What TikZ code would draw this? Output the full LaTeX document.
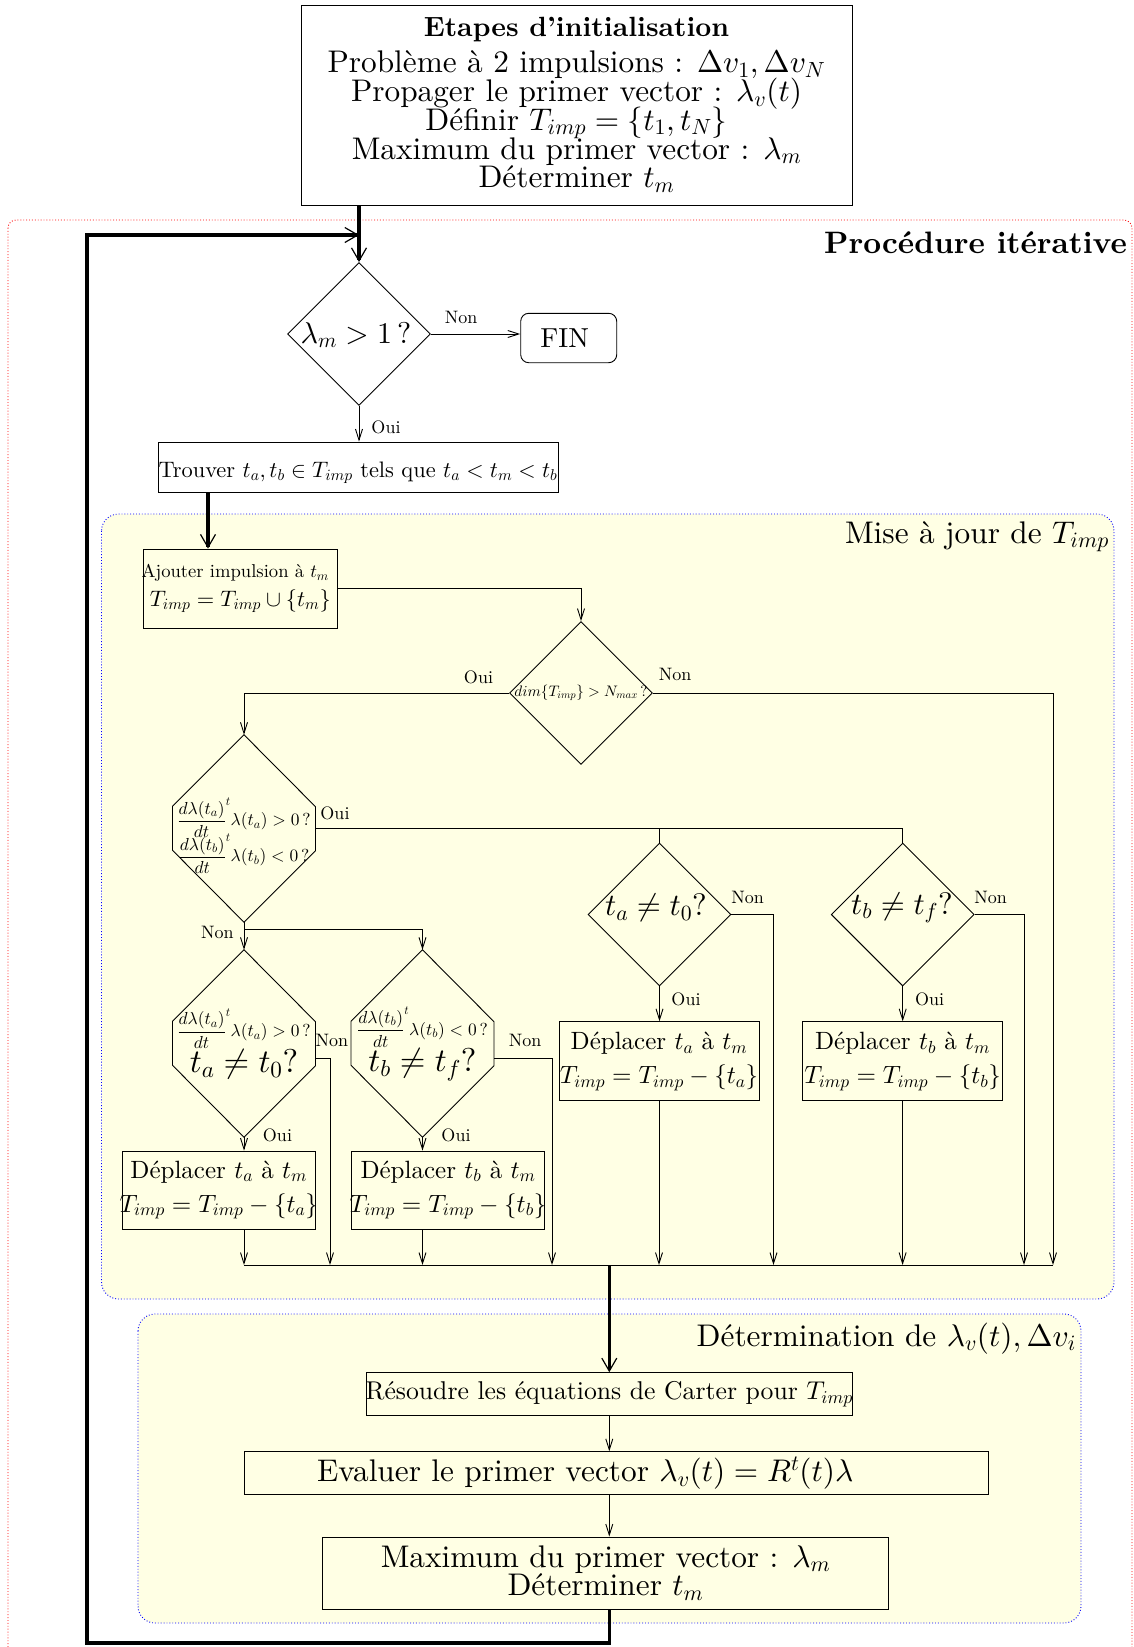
\documentclass[tikz,border=0pt]{standalone}
\usetikzlibrary{arrows.meta,calc,shapes.geometric}
\DeclareFontShape{OML}{cmm}{m}{it}{<->cmmi10}{}
\DeclareFontShape{OMS}{cmsy}{m}{n}{<->cmsy10}{}
\DeclareFontShape{OMX}{cmex}{m}{n}{<->cmex10}{}
\DeclareFontShape{OT1}{cmr}{m}{n}{<->cmr10}{}
\DeclareFontShape{TU}{lmr}{m}{n}{<->"[lmroman10-regular]:mapping=tex-text;"}{}
\DeclareFontShape{TU}{lmr}{bx}{n}{<->"[lmroman10-bold]:mapping=tex-text;"}{}
\definecolor{bgyellow}{RGB}{255,255,228}
\lineskiplimit=-1000pt
\lineskip=0pt
\newcommand{\fzA}{\fontsize{31.3}{28.7}\selectfont}
\newcommand{\fzB}{\fontsize{25}{34}\selectfont}
\newcommand{\fzR}{\fontsize{25.7}{30}\selectfont}
\newcommand{\fzC}{\fontsize{22.4}{29}\selectfont}
\newcommand{\fzD}{\fontsize{18.6}{29}\selectfont}
\newcommand{\fzE}{\fontsize{17.4}{36}\selectfont}
\newcommand{\fzEbig}{\fontsize{33}{36}\selectfont}
\newcommand{\fzF}{\fontsize{18}{20}\selectfont}
\newcommand{\fzG}{\fontsize{15.2}{18}\selectfont}
\newcommand{\fzH}{\fontsize{31}{34}\selectfont}
\newcommand{\fzI}{\fontsize{30}{34}\selectfont}
\newcommand{\fzT}{\fontsize{27.8}{28.7}\selectfont}
\newcommand{\fzP}{\fontsize{31}{34}\selectfont}
\newcommand{\fzN}{\fontsize{27.5}{30}\selectfont}
\newcommand{\zc}[1]{\makebox[0pt][c]{#1}}
\begin{document}
\begin{tikzpicture}[x=1pt,y=-1pt,
  box/.style={draw, line width=0.9pt, inner sep=0pt, align=center},
  dia/.style={draw, shape=diamond, line width=0.9pt, inner sep=0pt, minimum width=143pt, minimum height=143pt},
  cdia/.style={shape=rectangle, inner sep=0pt, minimum width=143pt, minimum height=187pt},
  shp/.style={line width=0.9pt},
  txt/.style={inner sep=0pt, align=center},
  lbl/.style={inner sep=0pt, font=\fzF},
  ln/.style={line width=0.9pt},
  arr/.style={line width=0.9pt, -{Straight Barb[length=11pt,width=7pt]}},
  tarr/.style={line width=3.5pt, -{Straight Barb[length=13pt,width=15pt,line width=1.2pt]}},
  zone/.style={draw=blue, dotted, line width=0.9pt, rounded corners=17pt, fill=bgyellow},
]
\useasboundingbox (0,0) rectangle (1133,1647);
\fill[white] (0,0) rectangle (1133,1647);
% frames
\draw[red, dotted, line width=0.9pt, rounded corners=8pt] (8,220) rectangle (1132,1690);
\draw[zone] (101.5,514) rectangle (1114,1299);
\draw[zone] (138,1314) rectangle (1081,1623);
% init
\node[box, fill=white, minimum width=551pt, minimum height=200pt, font=\fzA] (init) at (576.5,105)
 {{\fzT\bfseries Etapes d’initialisation}\\[7.3pt]
  Problème à 2 impulsions : $\Delta v_1,\Delta v_N$\\
  Propager le primer vector : $\lambda_v(t)$\\
  Définir $T_{imp}=\{t_1,t_N\}$\\
  Maximum du primer vector : $\lambda_m$\\
  Déterminer $t_m$};
\node[anchor=base east, inner sep=0pt, font=\fzP\bfseries] (proc) at (1127,253) {Procédure itérative};
% decision 1
\node[dia] (d1) at (359,334) {};
\node[txt, font=\fzI] (d1t) at (356,335) {$\lambda_m>1\,?$};
\node[box, rounded corners=8pt, fill=white, minimum width=96pt, minimum height=49.4pt, font=\fzN] (fin) at (568.7,338) {\zc{\kern-8pt FIN}};
\node[lbl] (non1) at (461,317.5) {Non};
\node[lbl] (oui1) at (386,427) {Oui};
\node[box, minimum width=400pt, minimum height=50pt, text height=24pt, text depth=4pt, font=\fzC] (trouver) at (358,467)
 {\zc{Trouver $t_a,t_b\in T_{imp}$ tels que $t_a<t_m<t_b$}};
% zone 1
\node[anchor=base east, inner sep=0pt, font=\fzA] (z1lab) at (1109,543) {Mise à jour de $T_{imp}$};
\node[box, minimum width=193.4pt, minimum height=79pt, font=\fzC] (ajout) at (240.3,588.5)
 {\zc{{\fzD Ajouter impulsion à $t_m$}\kern10pt}\\ $T_{imp}=T_{imp}\cup\{t_m\}$};
\node[dia] (d2) at (581,693) {};
\node[txt, font=\fzG] (d2t) at (581,693) {$dim\{T_{imp}\}>N_{max}\,?$};
\node[lbl] (oui2) at (478.5,677) {Oui};
\node[lbl] (non2) at (675,674) {Non};
% decision 3
\node[cdia] (d3) at (244,828.5) {};
\draw[shp] (d3.north) -- ++(-71.5,71.5) -- ++(0,44) -- (d3.south) -- ++(71.5,-71.5) -- ++(0,-44) -- cycle;
\node[txt, font=\fzE] (d3t) at (244,836)
 {$\displaystyle{\frac{d\lambda(t_a)}{dt}}^{t}\lambda(t_a)>0\,?$\\ $\displaystyle{\frac{d\lambda(t_b)}{dt}}^{t}\lambda(t_b)<0\,?$};
\node[lbl] (oui3) at (335,813) {Oui};
\node[lbl] (non3) at (217.5,932) {Non};
% decision 4 and 5
\node[cdia] (d4) at (244,1043.5) {};
\draw[shp] (d4.north) -- ++(-71.5,71.5) -- ++(0,44) -- (d4.south) -- ++(71.5,-71.5) -- ++(0,-44) -- cycle;
\node[txt, font=\fzE] (d4t) at (244,1044)
 {$\displaystyle{\frac{d\lambda(t_a)}{dt}}^{t}\lambda(t_a)>0\,?$\\ {\fzEbig$t_a\neq t_0?$}};
\node[cdia] (d5) at (422.5,1043.5) {};
\draw[shp] (d5.north) -- ++(-71.5,71.5) -- ++(0,44) -- (d5.south) -- ++(71.5,-71.5) -- ++(0,-44) -- cycle;
\node[txt, font=\fzE] (d5t) at (422.5,1044)
 {$\displaystyle{\frac{d\lambda(t_b)}{dt}}^{t}\lambda(t_b)<0\,?$\\ {\fzEbig$t_b\neq t_f?$}};
\node[lbl] (non4) at (332,1040) {Non};
\node[lbl] (non5) at (525,1040) {Non};
\node[lbl] (oui4) at (277.5,1135) {Oui};
\node[lbl] (oui5) at (456,1135) {Oui};
\node[box, minimum width=193.5pt, minimum height=78pt, font=\fzB] (b1) at (218.75,1190)
 {\zc{Déplacer $t_a$ à $t_m$}\\ \zc{$T_{imp}=T_{imp}-\{t_a\}$}};
\node[box, minimum width=193.3pt, minimum height=78pt, font=\fzB] (b2) at (448,1190)
 {\zc{Déplacer $t_b$ à $t_m$}\\ \zc{$T_{imp}=T_{imp}-\{t_b\}$}};
% decision 6 and 7
\node[dia] (d6) at (659.5,914.5) {};
\node[txt, font=\fzH] (d6t) at (656,908) {$t_a\neq t_0?$};
\node[dia] (d7) at (902.7,914.5) {};
\node[txt, font=\fzH] (d7t) at (902,908) {$t_b\neq t_f?$};
\node[lbl] (non6) at (747.5,897) {Non};
\node[lbl] (oui6) at (686,999) {Oui};
\node[lbl] (non7) at (990.5,897) {Non};
\node[lbl] (oui7) at (929.5,999) {Oui};
\node[box, minimum width=200pt, minimum height=79pt, font=\fzB] (b3) at (659,1061.2)
 {\zc{Déplacer $t_a$ à $t_m$}\\ \zc{$T_{imp}=T_{imp}-\{t_a\}$}};
\node[box, minimum width=200.4pt, minimum height=79pt, font=\fzB] (b4) at (902.6,1061.2)
 {\zc{Déplacer $t_b$ à $t_m$}\\ \zc{$T_{imp}=T_{imp}-\{t_b\}$}};
\coordinate (busL) at (244,1265);
\coordinate (busR) at (1053,1265);
% zone 2
\node[anchor=base east, inner sep=0pt, font=\fzA] (z2lab) at (1076,1346) {Détermination de $\lambda_v(t),\Delta v_i$};
\node[box, minimum width=486.6pt, minimum height=43pt, font=\fzR] (res) at (609.3,1394.2)
 {\zc{Résoudre les équations de Carter pour $T_{imp}$}};
\node[box, minimum height=42.3pt, text width=744pt, align=left, font=\fzA] (eval) at (616,1472.9)
 {\hspace*{73pt}Evaluer le primer vector $\lambda_v(t)=R^t(t)\lambda$};
\node[box, minimum width=565.7pt, minimum height=72pt, font=\fzA] (max) at (605.5,1573)
 {Maximum du primer vector : $\lambda_m$\\ Déterminer $t_m$};
\coordinate (lb) at (87,1643);
\coordinate (lt) at (87,235);
\coordinate (tj) at ($(trouver.south)+(-150,0)$);
% connectors
\draw[tarr] (init.south -| d1.north) -- (d1.north);
\draw[tarr] (res.south |- max.south) |- (lb) -- (lt) -- (lt -| d1.north);
\draw[arr] (d1.east) -- (d1.east -| fin.west);
\draw[arr] (d1.south) -- (d1.south |- trouver.north);
\draw[tarr] (tj) -- (tj |- ajout.north);
\draw[arr] (ajout.east) -| (d2.north);
\draw[arr] (d2.west) -| (d3.north);
\draw[arr] (d2.east) -| (busR);
\draw[ln] (d3.east) -- (d3.east -| d7.north) -- (d7.north);
\draw[ln] (d3.east -| d6.north) -- (d6.north);
\draw[arr] (d3.south) -- (d4.north);
\draw[arr] ($(d3.south)+(0,7)$) -| (d5.north);
\draw[arr] ($(d4.east)+(0,14.5)$) -| ($(busL)+(86,0)$);
\draw[arr] ($(d5.east)+(0,14.5)$) -| ($(busL)+(308,0)$);
\draw[arr] (d4.south) -- (d4.south |- b1.north);
\draw[arr] (d4.south |- b1.south) -- (busL);
\draw[arr] (d5.south) -- (d5.south |- b2.north);
\draw[arr] (d5.south |- b2.south) -- (d5.south |- busL);
\draw[arr] (d6.east) -| ($(busL)+(529.5,0)$);
\draw[arr] (d6.south) -- (d6.south |- b3.north);
\draw[arr] (b3.south) -- (b3.south |- busL);
\draw[arr] (d7.east) -| ($(busL)+(780,0)$);
\draw[arr] (d7.south) -- (d7.south |- b4.north);
\draw[arr] (b4.south) -- (b4.south |- busL);
\draw[ln] (busL) -- (busR);
\draw[tarr] (busL -| res.north) -- (res.north);
\draw[arr] (res.south) -- (res.south |- eval.north);
\draw[arr] (res.south |- eval.south) -- (res.south |- max.north);
\end{tikzpicture}
\end{document}
